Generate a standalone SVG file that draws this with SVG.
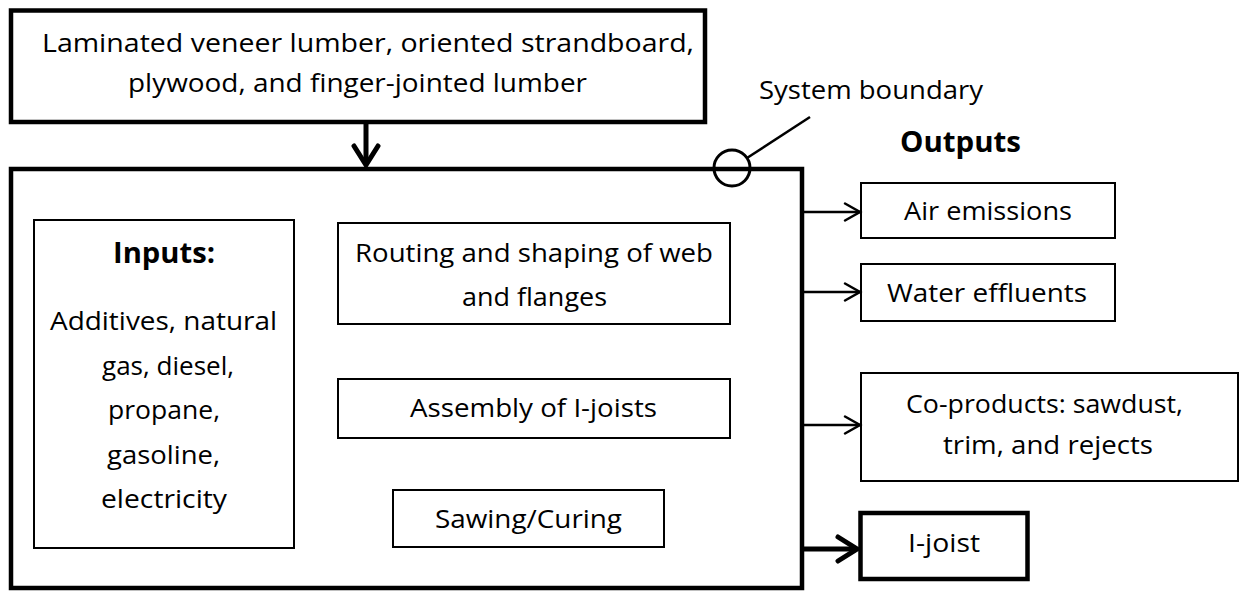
<svg xmlns="http://www.w3.org/2000/svg" width="1239" height="592" viewBox="0 0 1239 592">
  <defs>
    <style>
      text { font-family: "Open Sans", "Noto Sans", "Liberation Sans", sans-serif; font-size: 26px; fill: #000; }
      .b { font-weight: bold; font-size: 28px; }
      .box { fill: #fff; stroke: #000; stroke-width: 2; }
      .thick { fill: #fff; stroke: #000; stroke-width: 4.5; }
      .line { fill: none; stroke: #000; stroke-width: 2.5; }
      .tline { fill: none; stroke: #000; stroke-width: 5; }
    </style>
    <marker id="arrow" viewBox="0 0 20 22" refX="17" refY="11" markerWidth="20" markerHeight="22" markerUnits="userSpaceOnUse" orient="auto">
      <path d="M2,2.5 L17,11 L2,19.5" fill="none" stroke="#000" stroke-width="2.5" stroke-linecap="round"/>
    </marker>
    <marker id="arrowBold" viewBox="0 0 26 30" refX="22" refY="15" markerWidth="26" markerHeight="30" markerUnits="userSpaceOnUse" orient="auto">
      <path d="M3,3 L22,15 L3,27" fill="none" stroke="#000" stroke-width="5" stroke-linecap="round"/>
    </marker>
  </defs>

  <!-- raw materials entering the plant -->
  <g id="materials">
    <rect class="thick" x="11" y="10.5" width="694" height="111.5"/>
    <text x="368" y="52" text-anchor="middle" textLength="652" lengthAdjust="spacingAndGlyphs">Laminated veneer lumber, oriented strandboard,</text>
    <text x="357.5" y="92" text-anchor="middle" textLength="459" lengthAdjust="spacingAndGlyphs">plywood, and finger-jointed lumber</text>
  </g>

  <!-- plant system boundary -->
  <g id="boundary">
    <rect class="thick" x="11" y="169" width="791" height="419"/>
  </g>

  <g id="boundary-label">
    <circle cx="732" cy="168" r="18" fill="none" stroke="#000" stroke-width="3"/>
    <line x1="747" y1="158" x2="810" y2="117" stroke="#000" stroke-width="2.5"/>
    <text x="759" y="99" textLength="224" lengthAdjust="spacingAndGlyphs">System boundary</text>
  </g>

  <g id="inputs">
    <rect class="box" x="34" y="220" width="260" height="328"/>
    <text class="b" x="164" y="263" text-anchor="middle" textLength="102" lengthAdjust="spacingAndGlyphs">Inputs:</text>
    <text x="163.5" y="330" text-anchor="middle" textLength="227" lengthAdjust="spacingAndGlyphs">Additives, natural</text>
    <text x="168" y="374.5" text-anchor="middle" textLength="132" lengthAdjust="spacingAndGlyphs">gas, diesel,</text>
    <text x="164" y="419" text-anchor="middle" textLength="112" lengthAdjust="spacingAndGlyphs">propane,</text>
    <text x="163.5" y="463.5" text-anchor="middle" textLength="113" lengthAdjust="spacingAndGlyphs">gasoline,</text>
    <text x="164" y="508" text-anchor="middle" textLength="126" lengthAdjust="spacingAndGlyphs">electricity</text>
  </g>

  <g id="routing">
    <rect class="box" x="338" y="223" width="392" height="101"/>
    <text x="534" y="262" text-anchor="middle" textLength="358" lengthAdjust="spacingAndGlyphs">Routing and shaping of web</text>
    <text x="534.5" y="306" text-anchor="middle" textLength="145" lengthAdjust="spacingAndGlyphs">and flanges</text>
  </g>

  <g id="assembly">
    <rect class="box" x="338" y="379" width="392" height="59"/>
    <text x="533.5" y="417" text-anchor="middle" textLength="247" lengthAdjust="spacingAndGlyphs">Assembly of I-joists</text>
  </g>

  <g id="sawing">
    <rect class="box" x="393" y="490" width="271" height="57"/>
    <text x="528.5" y="528" text-anchor="middle" textLength="187" lengthAdjust="spacingAndGlyphs">Sawing/Curing</text>
  </g>

  <g id="outputs-title">
    <text class="b" x="900" y="152" textLength="121" lengthAdjust="spacingAndGlyphs">Outputs</text>
  </g>

  <g id="air">
    <rect class="box" x="861" y="183" width="254" height="55"/>
    <text x="988" y="220" text-anchor="middle" textLength="168" lengthAdjust="spacingAndGlyphs">Air emissions</text>
  </g>

  <g id="water">
    <rect class="box" x="861" y="264" width="254" height="57"/>
    <text x="987" y="302" text-anchor="middle" textLength="200" lengthAdjust="spacingAndGlyphs">Water effluents</text>
  </g>

  <g id="coproducts">
    <rect class="box" x="861" y="373" width="377" height="108"/>
    <text x="1044.5" y="413" text-anchor="middle" textLength="277" lengthAdjust="spacingAndGlyphs">Co-products: sawdust,</text>
    <text x="1048" y="454" text-anchor="middle" textLength="210" lengthAdjust="spacingAndGlyphs">trim, and rejects</text>
  </g>

  <g id="ijoist">
    <rect class="thick" x="860.5" y="513" width="167" height="66"/>
    <text x="944" y="552" text-anchor="middle" textLength="72" lengthAdjust="spacingAndGlyphs">I-joist</text>
  </g>

  <g id="connectors">
    <line class="tline" x1="366" y1="122" x2="366" y2="165" marker-end="url(#arrowBold)"/>
    <line class="line" x1="804" y1="212" x2="860" y2="212" marker-end="url(#arrow)"/>
    <line class="line" x1="804" y1="292" x2="860" y2="292" marker-end="url(#arrow)"/>
    <line class="line" x1="804" y1="425" x2="860" y2="425" marker-end="url(#arrow)"/>
    <line class="tline" x1="804" y1="549" x2="857" y2="549" marker-end="url(#arrowBold)"/>
  </g>
</svg>
